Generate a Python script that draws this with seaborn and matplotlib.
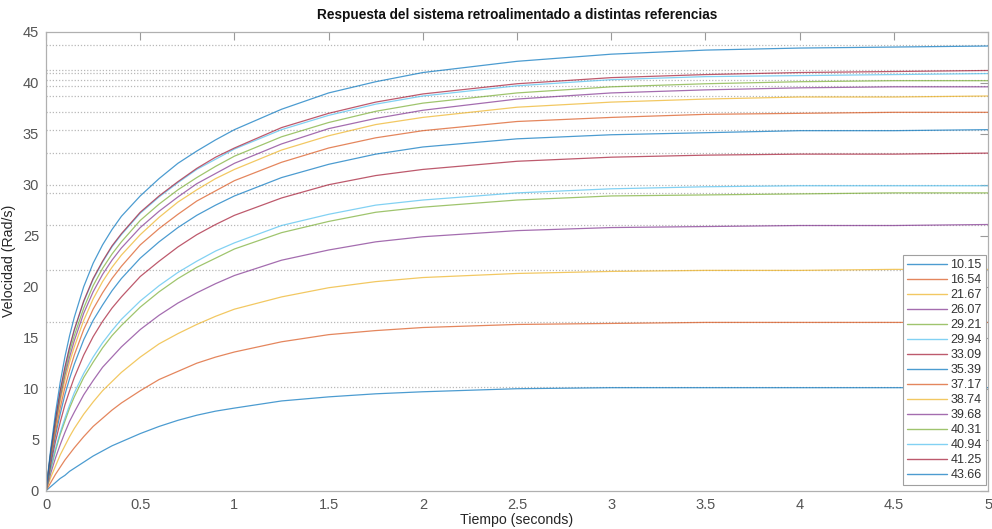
import numpy as np
import pandas as pd
import matplotlib
matplotlib.use("Agg")
import matplotlib.pyplot as plt
import seaborn as sns

# sample times (s) and the values
time_s = [0, 0.025, 0.05, 0.075, 0.1, 0.125, 0.15, 0.2, 0.25, 0.3, 0.35, 0.4, 0.5, 0.6, 0.7,
          0.8, 0.9, 1.0, 1.25, 1.5, 1.75, 2.0, 2.5, 3.0, 3.5, 4.0, 4.5, 5.0]
finals = [10.15, 16.54, 21.67, 26.07, 29.21, 29.94, 33.09, 35.39, 37.17, 38.74, 39.68, 40.31, 40.94, 41.25, 43.66]

v_10_15 = [0.0, 0.4, 0.8, 1.2, 1.5, 1.9, 2.2, 2.8, 3.4, 3.9, 4.4, 4.8, 5.6, 6.3, 6.9, 7.4, 7.8, 8.1, 8.8, 9.2, 9.5, 9.7, 10.0, 10.1, 10.1, 10.1, 10.1, 10.1]
v_16_54 = [0.0, 0.8, 1.6, 2.3, 3.0, 3.6, 4.2, 5.3, 6.3, 7.1, 7.9, 8.6, 9.8, 10.9, 11.7, 12.5, 13.1, 13.6, 14.6, 15.3, 15.7, 16.0, 16.3, 16.4, 16.5, 16.5, 16.5, 16.5]
v_21_67 = [0.0, 1.3, 2.4, 3.5, 4.4, 5.3, 6.1, 7.5, 8.7, 9.8, 10.7, 11.6, 13.1, 14.4, 15.4, 16.3, 17.1, 17.8, 19.0, 19.9, 20.5, 20.9, 21.3, 21.5, 21.6, 21.6, 21.7, 21.7]
v_26_07 = [0.0, 1.7, 3.2, 4.5, 5.7, 6.8, 7.7, 9.4, 10.8, 12.1, 13.1, 14.1, 15.8, 17.2, 18.4, 19.4, 20.3, 21.1, 22.6, 23.6, 24.4, 24.9, 25.5, 25.8, 25.9, 26.0, 26.0, 26.1]
v_29_21 = [0.0, 2.1, 3.9, 5.5, 6.8, 8.1, 9.2, 11.1, 12.6, 14.0, 15.2, 16.2, 18.0, 19.5, 20.8, 21.9, 22.8, 23.7, 25.3, 26.4, 27.3, 27.8, 28.5, 28.9, 29.0, 29.1, 29.2, 29.2]
v_29_94 = [0.0, 2.2, 4.1, 5.7, 7.1, 8.4, 9.6, 11.5, 13.1, 14.5, 15.7, 16.8, 18.6, 20.1, 21.4, 22.5, 23.5, 24.3, 26.0, 27.1, 28.0, 28.5, 29.2, 29.6, 29.8, 29.9, 29.9, 29.9]
v_33_09 = [0.0, 2.6, 4.8, 6.7, 8.4, 9.8, 11.1, 13.3, 15.1, 16.6, 17.9, 19.0, 21.0, 22.5, 23.9, 25.1, 26.1, 27.0, 28.7, 30.0, 30.9, 31.5, 32.3, 32.7, 32.9, 33.0, 33.0, 33.1]
v_35_39 = [0.0, 2.9, 5.4, 7.5, 9.4, 11.0, 12.4, 14.8, 16.7, 18.2, 19.6, 20.8, 22.8, 24.4, 25.8, 27.0, 28.0, 28.9, 30.7, 32.0, 33.0, 33.7, 34.5, 34.9, 35.1, 35.3, 35.3, 35.4]
v_37_17 = [0.0, 3.2, 5.8, 8.1, 10.1, 11.8, 13.3, 15.8, 17.8, 19.4, 20.8, 22.0, 24.1, 25.7, 27.1, 28.4, 29.4, 30.4, 32.2, 33.6, 34.6, 35.3, 36.2, 36.6, 36.9, 37.0, 37.1, 37.1]
v_38_74 = [0.0, 3.4, 6.2, 8.7, 10.8, 12.6, 14.1, 16.7, 18.8, 20.5, 21.9, 23.1, 25.1, 26.8, 28.3, 29.5, 30.6, 31.5, 33.4, 34.8, 35.9, 36.6, 37.6, 38.1, 38.4, 38.6, 38.6, 38.7]
v_39_68 = [0.0, 3.5, 6.5, 9.1, 11.3, 13.1, 14.7, 17.4, 19.5, 21.2, 22.6, 23.8, 25.8, 27.4, 28.8, 30.1, 31.1, 32.1, 34.0, 35.5, 36.5, 37.3, 38.4, 39.0, 39.3, 39.5, 39.6, 39.6]
v_40_31 = [0.0, 3.7, 6.8, 9.4, 11.6, 13.6, 15.2, 17.9, 20.1, 21.8, 23.2, 24.4, 26.5, 28.1, 29.5, 30.7, 31.8, 32.8, 34.7, 36.1, 37.2, 38.0, 39.0, 39.6, 39.9, 40.1, 40.2, 40.2]
v_40_94 = [0.0, 3.8, 7.0, 9.7, 12.0, 14.0, 15.7, 18.5, 20.7, 22.4, 23.9, 25.1, 27.2, 28.8, 30.2, 31.5, 32.5, 33.5, 35.4, 36.8, 37.9, 38.7, 39.7, 40.3, 40.6, 40.7, 40.8, 40.9]
v_41_25 = [0.0, 3.8, 7.0, 9.8, 12.1, 14.1, 15.8, 18.6, 20.8, 22.5, 24.0, 25.2, 27.3, 28.9, 30.3, 31.6, 32.7, 33.6, 35.6, 37.0, 38.1, 38.9, 39.9, 40.5, 40.8, 41.0, 41.1, 41.2]
v_43_66 = [0.0, 4.1, 7.6, 10.6, 13.1, 15.2, 17.0, 20.0, 22.3, 24.1, 25.6, 26.9, 28.9, 30.6, 32.1, 33.3, 34.4, 35.4, 37.4, 39.0, 40.1, 41.0, 42.1, 42.8, 43.2, 43.4, 43.5, 43.6]

series = [v_10_15, v_16_54, v_21_67, v_26_07, v_29_21, v_29_94, v_33_09, v_35_39,
          v_37_17, v_38_74, v_39_68, v_40_31, v_40_94, v_41_25, v_43_66]
x_tick_labels = ["0", "0.5", "1", "1.5", "2", "2.5", "3", "3.5", "4", "4.5", "5"]

matlab = ['#0072BD', '#D95319', '#EDB120', '#7E2F8E', '#77AC30', '#4DBEEE', '#A2142F']
labels = ["%.2f" % f for f in finals]
palette = {lab: matlab[i % 7] for i, lab in enumerate(labels)}

rows = []
for lab, vals in zip(labels, series):
    assert len(vals) == len(time_s)
    for ti, vi in zip(time_s, vals):
        rows.append((ti, vi, lab))
df = pd.DataFrame(rows, columns=["t", "v", "ref"])

sns.set_style("white")
plt.rcParams['font.family'] = ['Liberation Sans', 'DejaVu Sans']
fig = plt.figure(figsize=(9.92, 5.29), dpi=100)
ax = fig.add_axes([0.0464, 0.0724, 0.9496, 0.8676])

for f in finals:
    ax.axhline(f, color='#b8b8b8', lw=0.9, ls=(0, (1, 1.5)), zorder=1)

sns.lineplot(data=df, x="t", y="v", hue="ref", hue_order=labels, palette=palette,
             lw=0.9, alpha=0.7, ax=ax, zorder=2, sort=False)

ax.set_xlim(0, 5)
ax.set_ylim(0, 45)
ax.set_xticks(np.arange(0, 5.01, 0.5))
ax.set_xticklabels(x_tick_labels)
ax.set_yticks(np.arange(0, 46, 5))
ax.tick_params(direction='in', length=6, width=0.8, colors='#9a9a9a', labelcolor='#555555',
               labelsize=10.5, top=True, right=True, pad=5)
for s in ax.spines.values():
    s.set_color('#b0b0b0')
    s.set_linewidth(0.9)
ax.set_xlabel("Tiempo (seconds)", fontsize=10.2, color='#262626', labelpad=1)
ax.set_ylabel("Velocidad (Rad/s)", fontsize=10.2, color='#262626', labelpad=5)
ax.set_title("Respuesta del sistema retroalimentado a distintas referencias",
             fontsize=9.8, fontweight='bold', color='#111111', pad=9)

leg = ax.legend(loc='lower right', bbox_to_anchor=(0.9975, 0.013), fontsize=9,
                frameon=True, fancybox=False, framealpha=1, edgecolor='#a0a0a0',
                handlelength=3.2, handletextpad=0.3, labelspacing=0.24, borderpad=0.3,
                borderaxespad=0)
leg.get_frame().set_linewidth(0.8)
for txt in leg.get_texts():
    txt.set_color('#333333')
for h in leg.get_lines():
    h.set_linewidth(1.0)

fig.savefig("out.png", dpi=100)
